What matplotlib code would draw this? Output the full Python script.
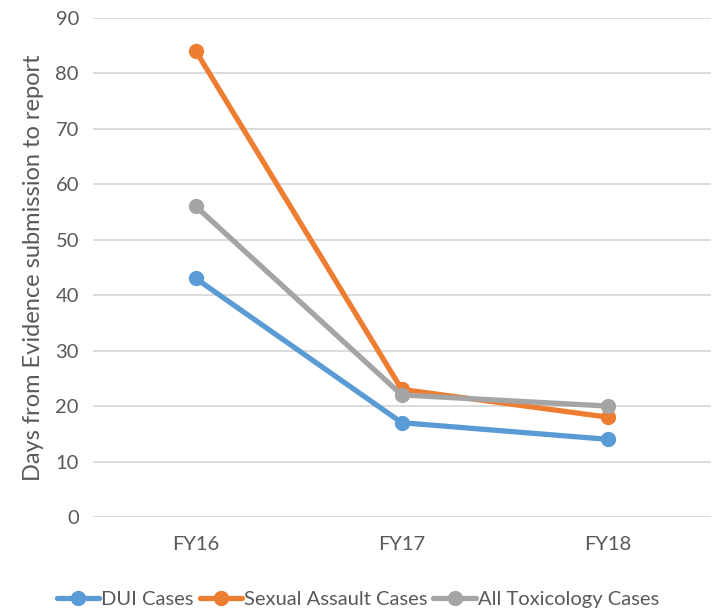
import matplotlib.pyplot as plt

plt.rcParams['font.family'] = ['Lato', 'DejaVu Sans']

years = ['FY16', 'FY17', 'FY18']
dui = [43, 17, 14]
sexual_assault = [84, 23, 18]
all_tox = [56, 22, 20]

series = [
    ('DUI Cases', dui, '#5B9BD5'),
    ('Sexual Assault Cases', sexual_assault, '#ED7D31'),
    ('All Toxicology Cases', all_tox, '#A5A5A5'),
]

fig = plt.figure(figsize=(7.2, 6.14), dpi=100)
ax = fig.add_axes([0.129, 0.158, 0.858, 0.813])

x = range(len(years))
for label, vals, color in series:
    ax.plot(x, vals, color=color, lw=3.8, marker='o', markersize=10,
            label=label, solid_capstyle='round', zorder=3)

ax.set_xlim(-0.5, 2.5)
ax.set_ylim(0, 90)
ax.set_yticks(range(0, 91, 10))
ax.set_xticks(list(x))
ax.set_xticklabels(years)
ax.grid(axis='y', color='#D9D9D9', lw=1.3)
ax.set_axisbelow(True)
for s in ax.spines.values():
    s.set_visible(False)
ax.tick_params(length=0, labelsize=14.5, colors='#595959', pad=10)
ax.tick_params(axis='x', pad=14)
ax.set_ylabel('Days from Evidence submission to report', fontsize=17,
              color='#595959', labelpad=8)

fig.legend(loc='center', bbox_to_anchor=(0.497, 0.024), ncol=3, frameon=False,
           fontsize=14.5, labelcolor='#595959', handlelength=2.1,
           handletextpad=0.1, columnspacing=0.3, borderaxespad=0,
           borderpad=0)

fig.savefig('out.png', dpi=100)
